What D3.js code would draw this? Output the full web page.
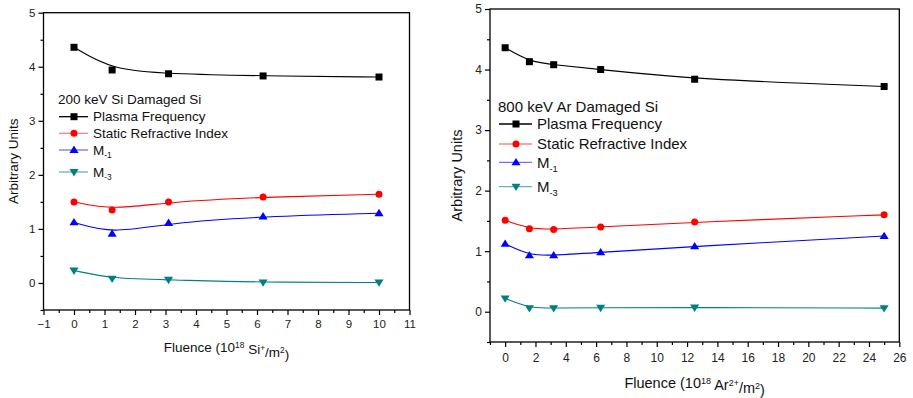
<!DOCTYPE html>
<html><head><meta charset="utf-8">
<script src="https://cdnjs.cloudflare.com/ajax/libs/d3/7.8.5/d3.min.js"></script>
<style>
html,body{margin:0;padding:0;background:#fff;}
svg{display:block;font-family:"Liberation Sans",Arial,sans-serif;}
</style></head>
<body><svg id="c" width="913" height="398"></svg>
<script>
// ---- data (left panel: 200 keV Si) ----
const leftFluence = [0, 1.25, 3.1, 6.2, 10];
const leftPlasma  = [4.36, 3.94, 3.87, 3.83, 3.81];
const leftRefr    = [1.50, 1.35, 1.50, 1.59, 1.64];
const leftM1      = [1.12, 0.91, 1.11, 1.23, 1.29];
const leftM3      = [0.23, 0.08, 0.06, 0.01, 0.01];
const leftXTicks  = [-1,0,1,2,3,4,5,6,7,8,9,10,11];
// ---- data (right panel: 800 keV Ar) ----
const rightFluence = [0, 1.6, 3.2, 6.3, 12.5, 25];
const rightPlasma  = [4.36, 4.13, 4.08, 4.00, 3.84, 3.72];
const rightRefr    = [1.51, 1.37, 1.36, 1.40, 1.48, 1.60];
const rightM1      = [1.12, 0.93, 0.93, 0.98, 1.08, 1.25];
const rightM3      = [0.22, 0.06, 0.06, 0.065, 0.07, 0.06];
const rightXTicks  = [0,2,4,6,8,10,12,14,16,18,20,22,24,26];
const yTicks = [0,1,2,3,4,5];
const seriesNames = ["Plasma Frequency","Static Refractive Index","M","M"];
const seriesSubs  = [null,null,"-1","-3"];
const seriesColors = ["#000000","#ff0000","#0000ff","#008080"];
const legendLineColors = ["#000000","#ff8080","#7070ff","#66b3b3"];
const seriesSymbols = ["square","circle","triUp","triDown"];

const svg = d3.select("#c");

function symbolPath(kind, size){
  if(kind==="square") return d3.symbol(d3.symbolSquare, size*size)();
  if(kind==="circle") return d3.symbol(d3.symbolCircle, Math.PI*size*size/4)();
  const h = size*1.05, w = size*1.3;
  if(kind==="triUp") return `M0,${-h*0.6}L${w/2},${h*0.4}L${-w/2},${h*0.4}Z`;
  return `M0,${h*0.6}L${w/2},${-h*0.4}L${-w/2},${-h*0.4}Z`;
}

function drawPanel(cfg){
  const g = svg.append("g");
  const x = d3.scaleLinear().domain(cfg.xDomain).range([cfg.x0, cfg.x1]);
  const y = d3.scaleLinear().domain([-0.5,5]).range([cfg.y1, cfg.y0]);

  g.append("rect").attr("x",cfg.x0).attr("y",cfg.y0)
    .attr("width",cfg.x1-cfg.x0).attr("height",cfg.y1-cfg.y0)
    .attr("fill","none").attr("stroke","#000").attr("stroke-width",1.3);

  const yMinor = d3.range(-0.5,5.01,0.5).filter(v=>Math.abs(v-Math.round(v))>0.01);
  const ya = g.append("g").attr("transform",`translate(${cfg.x0},0)`)
    .call(d3.axisLeft(y).tickValues(yTicks).tickFormat(d3.format("d")).tickSize(5).tickPadding(3));
  g.append("g").attr("transform",`translate(${cfg.x0},0)`)
    .call(d3.axisLeft(y).tickValues(yMinor).tickFormat("").tickSize(3))
    .select(".domain").remove();
  ya.select(".domain").remove();
  ya.selectAll("text").attr("font-size",cfg.tickFont).attr("fill","#222");

  const xa = g.append("g").attr("transform",`translate(0,${cfg.y1})`)
    .call(d3.axisBottom(x).tickValues(cfg.xTicks).tickFormat(d3.format("d")).tickSize(5).tickPadding(cfg.xPad));
  const xMinor = d3.range(cfg.xDomain[0], cfg.xDomain[1]+0.001, cfg.minorStep)
    .filter(v=>!cfg.xTicks.some(t=>Math.abs(t-v)<1e-6));
  g.append("g").attr("transform",`translate(0,${cfg.y1})`)
    .call(d3.axisBottom(x).tickValues(xMinor).tickFormat("").tickSize(3))
    .select(".domain").remove();
  xa.select(".domain").remove();
  xa.selectAll("text").attr("font-size",cfg.tickFont).attr("fill","#222");
  g.selectAll(".tick line").attr("stroke","#000").attr("stroke-width",1.2);

  const symSize = cfg.sym;
  cfg.series.forEach((vals,i)=>{
    const pts = cfg.xs.map((xv,j)=>[x(xv), y(vals[j])]);
    g.append("path").attr("d", d3.line().curve(d3.curveBasis)(pts))
      .attr("fill","none").attr("stroke",seriesColors[i]).attr("stroke-width",1.1);
    g.selectAll(null).data(pts).enter().append("path")
      .attr("transform",d=>`translate(${d[0]},${d[1]})`)
      .attr("d",symbolPath(seriesSymbols[i], symSize))
      .attr("fill",seriesColors[i]);
  });

  const L = cfg.legend;
  g.append("text").attr("x",L.x).attr("y",L.titleY).attr("dy","0.35em")
    .attr("font-size",L.font).attr("fill","#111").text(cfg.title);
  L.rows.forEach((ry,i)=>{
    g.append("line").attr("x1",L.x+1).attr("x2",L.x+L.lineW).attr("y1",ry).attr("y2",ry)
      .attr("stroke",legendLineColors[i]).attr("stroke-width",1.3);
    g.append("path").attr("transform",`translate(${L.x+1+L.lineW/2},${ry})`)
      .attr("d",symbolPath(seriesSymbols[i], symSize)).attr("fill",seriesColors[i]);
    const t = g.append("text").attr("x",L.x+L.lineW+5).attr("y",ry).attr("dy","0.35em")
      .attr("font-size",L.font).attr("fill","#111").text(seriesNames[i]);
    if(seriesSubs[i]) t.append("tspan").attr("dy","0.45em").attr("font-size",L.font*0.62).text(seriesSubs[i]);
  });

  const xt = g.append("text").attr("x",(cfg.x0+cfg.x1)/2).attr("y",cfg.xTitleY)
    .attr("text-anchor","middle").attr("font-size",cfg.titleFont).attr("fill","#111");
  xt.append("tspan").text("Fluence (10");
  xt.append("tspan").attr("dy","-0.45em").attr("font-size",cfg.titleFont*0.62).text("18");
  xt.append("tspan").attr("dy","0.45em").text(" "+cfg.ion);
  xt.append("tspan").attr("dy","-0.45em").attr("font-size",cfg.titleFont*0.62).text(cfg.charge);
  xt.append("tspan").attr("dy","0.45em").text("/m");
  xt.append("tspan").attr("dy","-0.45em").attr("font-size",cfg.titleFont*0.62).text("2");
  xt.append("tspan").attr("dy","0.45em").text(")");

  g.append("text").attr("transform",`translate(${cfg.yTitleX},${(cfg.y0+cfg.y1)/2}) rotate(-90)`)
    .attr("text-anchor","middle").attr("dy","0.35em").attr("font-size",cfg.titleFont).attr("fill","#111")
    .text("Arbitrary Units");
}

drawPanel({
  x0:43.5, x1:409.5, y0:12.7, y1:310, xDomain:[-1,11], xTicks:leftXTicks, minorStep:0.5,
  xs:leftFluence, series:[leftPlasma,leftRefr,leftM1,leftM3],
  tickFont:11.5, titleFont:13.5, xPad:5, sym:7,
  xTitleY:352, yTitleX:13, ion:"Si", charge:"+",
  title:"200 keV Si Damaged Si",
  legend:{x:58, titleY:99.5, rows:[116.7,133.3,150,172], lineW:30, font:13.5}
});
drawPanel({
  x0:490, x1:899.3, y0:9, y1:342, xDomain:[-1,26], xTicks:rightXTicks, minorStep:1,
  xs:rightFluence, series:[rightPlasma,rightRefr,rightM1,rightM3],
  tickFont:12, titleFont:14.5, xPad:6, sym:7,
  xTitleY:388, yTitleX:457, ion:"Ar", charge:"2+",
  title:"800 keV Ar Damaged Si",
  legend:{x:498, titleY:106.7, rows:[124,144,162.3,186.7], lineW:34, font:15}
});
</script></body></html>
